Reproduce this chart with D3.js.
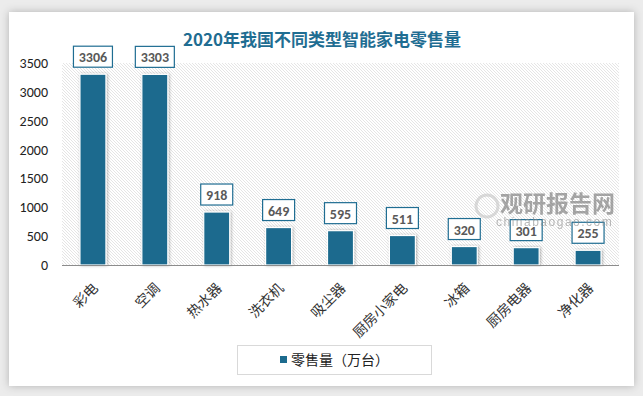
<!DOCTYPE html>
<html>
<head>
<meta charset="utf-8">
<script src="https://cdn.jsdelivr.net/npm/d3@7"></script>
<style>
  body { margin: 0; background: #ececec; }
  svg { display: block; }
</style>
</head>
<body>
<svg id="canvas"></svg>
<script>
/***********************************************************************/
// Data

var categories = ['彩电', '空调', '热水器', '洗衣机', '吸尘器', '厨房小家电', '冰箱', '厨房电器', '净化器'];
var sales = [3306, 3303, 918, 649, 595, 511, 320, 301, 255];
var yTicks = [0, 500, 1000, 1500, 2000, 2500, 3000, 3500];
var title = '2020年我国不同类型智能家电零售量';
var seriesName = '零售量（万台）';

/***********************************************************************/
// Layout

var width = 643, height = 396;
var barColor = '#1c6b8e';
var plot = { left: 62, right: 619, top: 63, bottom: 265 };
var numFont = 'Carlito, Calibri, "Liberation Sans", sans-serif';

var svg = d3.select('#canvas').attr('width', width).attr('height', height);
var defs = svg.append('defs');

// card shadow
var shadow = defs.append('filter').attr('id', 'shadow').attr('x', -0.1).attr('y', -0.1).attr('width', 1.2).attr('height', 1.2);
shadow.append('feDropShadow').attr('dx', 0).attr('dy', 0).attr('stdDeviation', 4).attr('flood-color', '#000').attr('flood-opacity', 0.25);

var barShadow = defs.append('filter').attr('id', 'barShadow').attr('x', -0.3).attr('y', -0.1).attr('width', 1.6).attr('height', 1.2);
barShadow.append('feDropShadow').attr('dx', 1).attr('dy', 0).attr('stdDeviation', 1.5).attr('flood-color', '#000').attr('flood-opacity', 0.3);

// hatch background
var hatch = defs.append('pattern').attr('id', 'hatch').attr('patternUnits', 'userSpaceOnUse')
  .attr('width', 3).attr('height', 3);
hatch.append('rect').attr('width', 3).attr('height', 3).attr('fill', '#fff');
hatch.append('path').attr('d', 'M-1,-1 L4,4 M2,-1 L4,1 M-1,2 L1,4')
  .attr('stroke', '#dedede').attr('stroke-width', 0.8);

svg.append('rect').attr('x', 9).attr('y', 12).attr('width', 625).attr('height', 374)
  .attr('fill', '#fff').attr('filter', 'url(#shadow)');

svg.append('text').attr('x', 322).attr('y', 46).attr('text-anchor', 'middle')
  .style('font-family', '"Noto Sans CJK SC", sans-serif').style('font-size', '17px')
  .style('font-weight', 'bold').style('fill', '#1f6d92').text(title);

/***********************************************************************/
// Scales

var xScale = d3.scaleBand().domain(categories).range([plot.left, plot.right]).paddingInner(0.58).paddingOuter(0.29);
var yScale = d3.scaleLinear().domain([0, 3500]).range([plot.bottom, plot.top]);

svg.append('rect').attr('x', plot.left).attr('y', plot.top)
  .attr('width', plot.right - plot.left).attr('height', plot.bottom - plot.top)
  .attr('fill', 'url(#hatch)');

// y axis
var yAxis = svg.append('g').attr('transform', 'translate(' + (plot.left - 14) + ',0)')
  .call(d3.axisLeft(yScale).tickValues(yTicks).tickFormat(d3.format('d')).tickSize(0).tickPadding(0));
yAxis.select('.domain').remove();
yAxis.selectAll('text').style('font-family', numFont)
  .style('font-size', '14px').style('fill', '#222');

// bars
svg.append('g').selectAll('rect').data(sales).join('rect')
  .attr('x', (d, i) => xScale(categories[i]))
  .attr('y', d => yScale(d))
  .attr('width', xScale.bandwidth())
  .attr('height', d => plot.bottom - yScale(d))
  .attr('fill', barColor).attr('stroke', '#fff').attr('stroke-width', 1.2)
  .attr('filter', 'url(#barShadow)');

// x axis line
svg.append('line').attr('x1', plot.left).attr('x2', plot.right)
  .attr('y1', plot.bottom + 0.5).attr('y2', plot.bottom + 0.5)
  .attr('stroke', '#8c8c8c').attr('stroke-width', 1);

// x labels
svg.append('g').selectAll('text').data(categories).join('text')
  .attr('transform', d => 'translate(' + (xScale(d) + xScale.bandwidth() / 2 + 6) + ',' + (plot.bottom + 24) + ') rotate(-45)')
  .attr('text-anchor', 'end')
  .style('font-family', '"Noto Sans CJK SC", sans-serif').style('font-size', '14px')
  .style('fill', '#333').text(d => d);

// value labels
var labels = svg.append('g').selectAll('g').data(sales).join('g')
  .attr('transform', (d, i) => 'translate(' + (xScale(categories[i]) + xScale.bandwidth() / 2) + ',' + (yScale(d) - 17) + ')');
labels.append('rect')
  .attr('x', d => String(d).length > 3 ? -19.5 : -16)
  .attr('y', -11)
  .attr('width', d => String(d).length > 3 ? 39 : 32)
  .attr('height', 21)
  .attr('fill', '#fff').attr('stroke', '#1f6d92').attr('stroke-width', 1.2);
labels.append('text').attr('text-anchor', 'middle').attr('y', 5)
  .style('font-family', numFont).style('font-size', '14px')
  .style('font-weight', 'bold').style('fill', '#595959').text(d => d);

// watermark
var wm = svg.append('g').attr('opacity', 0.6);
wm.append('circle').attr('cx', 487).attr('cy', 206).attr('r', 11).attr('fill', 'none')
  .attr('stroke', '#c4c4c4').attr('stroke-width', 3);
wm.append('text').attr('x', 500).attr('y', 212)
  .style('font-family', '"Noto Sans CJK SC", sans-serif').style('font-size', '23px')
  .style('font-weight', 'bold').style('fill', '#6e6e6e').text('观研报告网');
wm.append('text').attr('x', 496).attr('y', 226)
  .style('font-family', '"Liberation Sans", sans-serif').style('font-size', '12px')
  .style('letter-spacing', '1.5px').style('fill', '#8a8a8a').text('chinabaogao.com');

// legend
svg.append('rect').attr('x', 237.5).attr('y', 345.5).attr('width', 194).attr('height', 29)
  .attr('fill', '#fff').attr('stroke', '#d9d9d9');
svg.append('rect').attr('x', 280).attr('y', 356).attr('width', 7).attr('height', 7).attr('fill', barColor);
svg.append('text').attr('x', 291).attr('y', 365)
  .style('font-family', '"Noto Sans CJK SC", sans-serif').style('font-size', '14px')
  .style('fill', '#222').text(seriesName);
</script>
</body>
</html>
